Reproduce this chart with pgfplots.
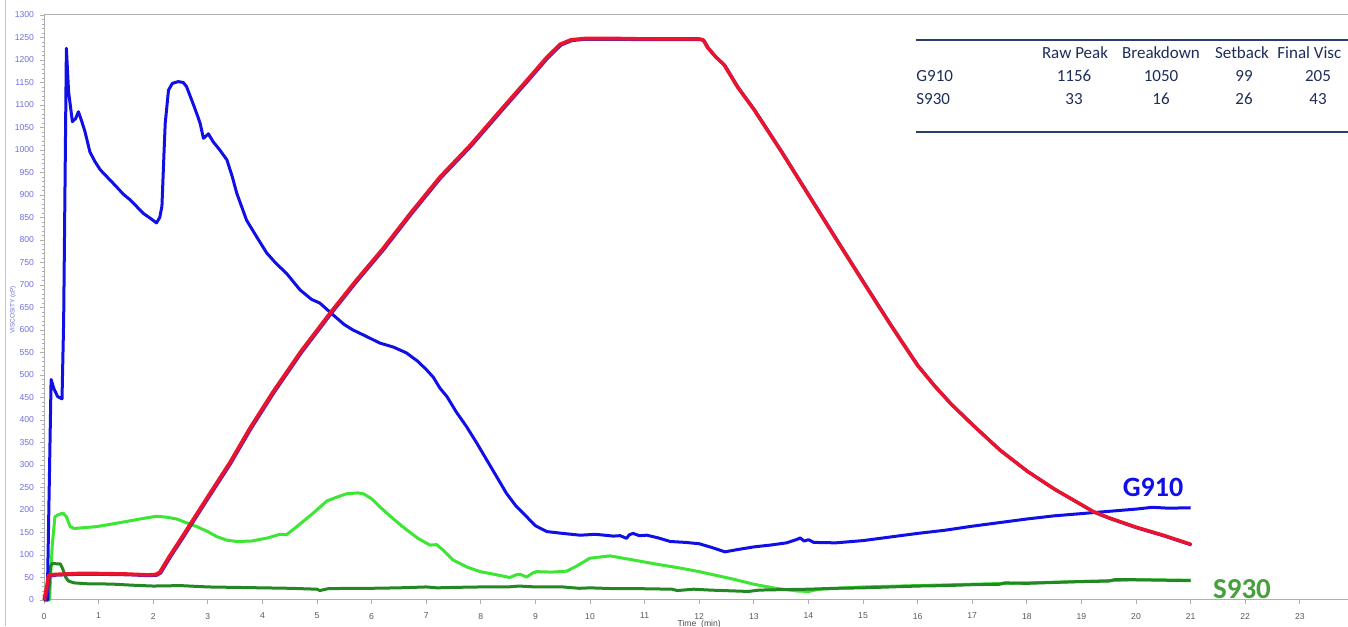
\documentclass[border=0pt]{standalone}
\usepackage{fontspec}
\setmainfont{Carlito}
\newfontfamily\tickfont{Liberation Sans}
\usepackage{pgfplots}
\pgfplotsset{compat=1.18}
\usepackage{pgfplotstable}

\definecolor{g910}{RGB}{16,16,230}
\definecolor{tempred}{RGB}{235,20,45}
\definecolor{tempshade}{RGB}{120,30,150}
\definecolor{lightgr}{RGB}{60,230,50}
\definecolor{darkgr}{RGB}{35,135,35}
\definecolor{labgreen}{RGB}{70,160,60}
\definecolor{axgray}{RGB}{175,175,175}
\definecolor{ylab}{RGB}{110,110,225}
\definecolor{navy}{RGB}{40,60,110}
\definecolor{navytext}{RGB}{30,45,90}

% G910 viscosity trace
\pgfplotstableread{
t v
0 0
0.06 0
0.13 490
0.18 470
0.25 452
0.33 447
0.36 620
0.41 1226
0.45 1130
0.52 1063
0.58 1070
0.63 1085
0.68 1068
0.75 1041
0.84 996
0.93 975
1.03 956
1.18 937
1.33 918
1.45 902
1.58 889
1.70 874
1.82 859
1.95 848
2.06 838
2.12 850
2.16 875
2.20 1000
2.22 1059
2.28 1133
2.35 1148
2.46 1152
2.55 1150
2.61 1141
2.73 1103
2.80 1080
2.86 1059
2.92 1026
2.96 1030
3.01 1036
3.10 1018
3.22 1000
3.35 978
3.45 940
3.53 904
3.71 844
3.90 806
4.08 771
4.25 748
4.44 726
4.69 689
4.90 668
5.05 660
5.30 633
5.50 612
5.66 600
5.90 586
6.15 571
6.40 562
6.64 549
6.85 530
7.01 511
7.13 495
7.25 471
7.38 452
7.55 418
7.74 385
7.92 350
8.11 311
8.30 272
8.47 237
8.65 208
8.84 185
9.00 165
9.21 152
9.50 148
9.82 144
10.1 146
10.43 142
10.55 143
10.67 137
10.72 145
10.79 148
10.90 143
11.04 144
11.25 138
11.47 130
11.75 128
12.00 125
12.25 116
12.47 107
12.70 112
13.00 118
13.30 122
13.60 127
13.80 135
13.85 138
13.92 131
14.00 134
14.10 128
14.50 127
15.00 132
15.50 140
16.00 148
16.50 155
17.00 164
17.50 172
18.00 180
18.50 187
19.00 192
19.50 197
20.00 202
20.30 206
20.60 204
21.00 205
}\gnine

% temperature profile
\pgfplotstableread{
t v
0 0
0.05 30
0.08 55
0.2 57
0.6 59
1.0 59
1.5 58
1.9 56
2.05 57
2.12 62
2.2 78
2.3 98
2.5 135
2.8 192
3.0 230
3.4 305
3.77 382
4.19 462
4.7 552
5.24 638
5.7 708
6.2 780
6.7 858
7.25 940
7.8 1010
8.35 1087
8.9 1163
9.2 1205
9.45 1235
9.65 1245
9.9 1248
10.5 1248
11.0 1247
11.5 1247
12.0 1247
12.07 1245
12.15 1228
12.3 1207
12.45 1190
12.7 1140
13.0 1090
13.5 997
14.0 900
14.5 803
15.0 707
15.5 612
15.8 557
16.0 521
16.3 477
16.6 437
17.0 390
17.5 334
18.0 287
18.5 247
19.0 212
19.21 197
19.5 183
20.0 162
20.5 144
21.0 124
}\temp

% light green trace
\pgfplotstableread{
t v
0 0
0.1 0
0.15 120
0.2 185
0.27 190
0.35 193
0.41 185
0.48 163
0.55 159
0.66 160
0.96 163
1.3 170
1.58 176
1.85 182
2.06 186
2.25 184
2.43 180
2.6 172
2.8 163
3.0 152
3.16 141
3.35 133
3.53 130
3.8 131
4.1 138
4.32 146
4.44 145
4.6 160
4.93 193
5.18 220
5.35 228
5.54 236
5.75 238
5.85 236
6.0 225
6.15 207
6.4 180
6.64 156
6.85 137
7.07 122
7.19 123
7.3 112
7.49 89
7.75 73
7.99 63
8.29 56
8.53 50
8.65 56
8.72 57
8.84 51
8.95 60
9.02 63
9.3 62
9.57 64
9.75 75
10.0 93
10.37 98
10.6 93
10.79 89
11.2 80
11.65 71
12.0 63
12.3 55
12.6 47
13.0 35
13.4 26
13.8 20
14.0 19
14.2 24
15 29
16 32
17 35
18 38
19 41
20 45
21 44
}\lgreen

% S930 viscosity trace
\pgfplotstableread{
t v
0 0
0.08 0
0.12 75
0.15 81
0.3 80
0.34 70
0.4 50
0.45 42
0.55 38
0.8 36
1.0 36
1.3 35
1.6 33
2.0 31
2.5 32
3.0 29
3.5 28
4.0 27
4.5 26
5.0 24
5.05 21
5.2 25
5.6 26
6.0 26
6.5 27
7.0 29
7.2 27
7.5 28
8.0 29
8.5 29
8.7 31
9.0 29
9.5 29
9.8 26
10.0 27
10.5 25
11.0 25
11.5 24
11.6 21
11.9 24
12.2 22
12.9 19
13.1 22
13.5 23
14.0 24
14.5 26
15.0 27
15.5 29
16.0 31
16.5 32
17.0 34
17.5 35
17.6 38
18.0 37
18.5 39
19.0 41
19.5 42
19.6 45
20.0 45
20.5 44
21.0 43
}\sninethirty

\begin{document}
\begin{tikzpicture}
\path[use as bounding box] (0,0) rectangle (674pt,313pt);
\clip (0,0) rectangle (674pt,313pt);
% outer frame edge
\draw[axgray!70, line width=0.5pt] (2.5pt,0) -- (2.5pt,313pt);
\begin{axis}[
  name=ax,
  at={(22pt,13pt)}, anchor=south west,
  scale only axis,
  width=655.2pt, height=292.5pt,
  xmin=0, xmax=24, ymin=0, ymax=1300,
  axis x line*=bottom, axis y line*=left,
  axis line style={draw=axgray, line width=0.5pt, -},
  xtick={0,...,23},
  ytick={0,50,...,1300},
  minor y tick num=4,
  tick align=outside,
  major tick length=2pt, minor tick length=1.2pt,
  every tick/.style={axgray, line width=0.4pt},
  tick label style={font=\tickfont\fontsize{4.3}{5}\selectfont},
  yticklabel style={text=ylab, xshift=0.5pt},
  xticklabel style={text=black!65, yshift=-1pt},
  /pgf/number format/assume math mode=true,
  /pgf/number format/1000 sep={},
  xlabel={Time\ \ (min)},
  xlabel style={font=\tickfont\fontsize{4.3}{5}\selectfont, text=black!70, yshift=6.5pt},
  clip=false,
]
\addplot[lightgr, line width=1.5pt, line join=round] table[x=t,y=v] {\lgreen};
\addplot[darkgr, line width=1.5pt, line join=round] table[x=t,y=v] {\sninethirty};
\addplot[g910, line width=1.5pt, line join=round] table[x=t,y=v] {\gnine};
\addplot[tempshade, line width=1.6pt, xshift=0.5pt, yshift=-0.4pt, line join=round] table[x=t,y=v] {\temp};
\addplot[tempred, line width=1.7pt, line join=round] table[x=t,y=v] {\temp};
\end{axis}
\draw[axgray, line width=0.5pt] (ax.north west) -- (ax.north east);
% y axis title
\node[rotate=90, text=ylab, font=\tickfont\fontsize{3.2}{4}\selectfont] at (6.5pt,158pt) {VISCOSITY (cP)};
% series labels
\node[anchor=base, text=g910, font=\bfseries\fontsize{14}{16}\selectfont, inner sep=0pt] at (576.5pt,64.5pt) {G910};
\node[anchor=base, text=labgreen, font=\bfseries\fontsize{14.5}{16}\selectfont, inner sep=0pt] at (621pt,13.5pt) {S930};
% summary table
\draw[navy, line width=1pt] (458pt,293pt) -- (674pt,293pt);
\draw[navy, line width=1pt] (458pt,247pt) -- (674pt,247pt);
\begin{scope}[every node/.style={text=navytext, font=\fontsize{8.5}{10}\selectfont, inner sep=0pt, anchor=base}]
\node at (537.5pt,283.5pt) {Raw Peak};
\node at (580.5pt,283.5pt) {Breakdown};
\node at (621pt,283.5pt) {Setback};
\node[anchor=base west] at (638.5pt,283.5pt) {Final Visc};
\node[anchor=base west] at (458pt,272pt) {G910};
\node at (537pt,272pt) {1156};
\node at (580.5pt,272pt) {1050};
\node at (622pt,272pt) {99};
\node at (659pt,272pt) {205};
\node[anchor=base west] at (458pt,260.5pt) {S930};
\node at (537pt,260.5pt) {33};
\node at (580.5pt,260.5pt) {16};
\node at (622pt,260.5pt) {26};
\node at (659pt,260.5pt) {43};
\end{scope}
\end{tikzpicture}
\end{document}
